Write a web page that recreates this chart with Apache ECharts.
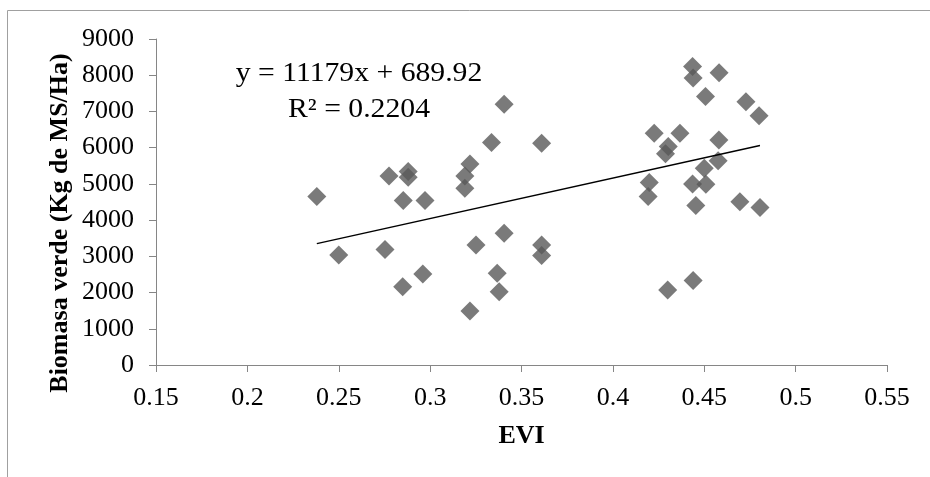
<!DOCTYPE html>
<html>
<head>
<meta charset="utf-8">
<script src="https://cdn.jsdelivr.net/npm/echarts@6/dist/echarts.min.js"></script>
<style>
  html, body { margin: 0; padding: 0; background: #fff; }
  #chart { width: 930px; height: 477px; }
</style>
</head>
<body>
<div id="chart"></div>
<script>
// EVI vs biomasa verde
var evi = [
  0.238, 0.250, 0.2775, 0.288, 0.288, 0.2853, 0.2972, 0.2753, 0.285, 0.296,
  0.3405, 0.3336, 0.361, 0.3218, 0.319, 0.319, 0.3405, 0.3251, 0.361, 0.361, 0.3367, 0.3378, 0.3218,
  0.4436, 0.4439, 0.4581, 0.4507, 0.4728, 0.480, 0.4226, 0.4367, 0.4303, 0.4288, 0.458, 0.4576,
  0.450, 0.4436, 0.4509, 0.4199, 0.4193, 0.4454, 0.4695, 0.4805, 0.4439, 0.430
];
var biomasa = [
  4650, 3040, 5220, 5340, 5180, 4540, 4540, 3190, 2160, 2510,
  7200, 6140, 6120, 5550, 5220, 4880, 3640, 3310, 3310, 3020, 2530, 2020, 1490,
  8240, 7920, 8070, 7410, 7270, 6880, 6400, 6400, 6030, 5830, 6210, 5640,
  5430, 5000, 4990, 5040, 4650, 4400, 4510, 4350, 2330, 2070
];
var xTicks = { min: 0.15, max: 0.55, step: 0.05 };
var yTicks = { min: 0, max: 9000, step: 1000 };

// linear trend as printed on the chart
var slope = 11179;
var intercept = 689.92;
var eqText = 'y = 11179x + 689.92';
var r2Text = 'R² = 0.2204';

var points = evi.map(function (x, i) { return [x, biomasa[i]]; });
var xMin = Math.min.apply(null, evi);
var xMax = Math.max.apply(null, evi);
var trend = [[xMin, slope * xMin + intercept], [xMax, slope * xMax + intercept]];

var serif = '"Liberation Serif", "Times New Roman", serif';
var chart = echarts.init(document.getElementById('chart'));

var option = {
  animation: false,
  grid: { left: 156, right: 43, top: 39, bottom: 112 },
  xAxis: {
    type: 'value',
    min: xTicks.min, max: xTicks.max, interval: xTicks.step,
    name: 'EVI', nameLocation: 'middle', nameGap: 58,
    nameTextStyle: { fontFamily: serif, fontSize: 26, fontWeight: 'bold', color: '#000' },
    axisLine: { lineStyle: { color: '#868686', width: 1 } },
    axisTick: { show: true, length: 7, lineStyle: { color: '#868686' } },
    axisLabel: {
      fontFamily: serif, fontSize: 26, color: '#000', margin: 20,
      formatter: function (v) { return String(+v.toFixed(2)); }
    },
    splitLine: { show: false }
  },
  yAxis: {
    type: 'value',
    min: yTicks.min, max: yTicks.max, interval: yTicks.step,
    axisLine: { show: true, lineStyle: { color: '#868686', width: 1 } },
    axisTick: { show: true, length: 7, lineStyle: { color: '#868686' } },
    axisLabel: {
      fontFamily: serif, fontSize: 26, color: '#000', margin: 22,
      formatter: function (v) { return String(v); }
    },
    splitLine: { show: false }
  },
  graphic: [
    {
      type: 'rect', silent: true,
      shape: { x: 7.5, y: 10.5, width: 1000, height: 1000 },
      style: { fill: 'none', stroke: '#a0a0a0', lineWidth: 1 }
    },
    {
      type: 'text', x: 60, y: 223, rotation: Math.PI / 2,
      style: {
        text: 'Biomasa verde (Kg de MS/Ha)', font: 'bold 26px ' + serif,
        fill: '#000', align: 'center', verticalAlign: 'middle'
      }
    },
    {
      type: 'text', x: 359, y: 74, scaleX: 1.1,
      style: { text: eqText, font: '27px ' + serif, fill: '#000', align: 'center', verticalAlign: 'middle' }
    },
    {
      type: 'text', x: 359, y: 110, scaleX: 1.1,
      style: { text: r2Text, font: '27px ' + serif, fill: '#000', align: 'center', verticalAlign: 'middle' }
    }
  ],
  series: [
    {
      type: 'scatter',
      data: points,
      symbol: 'diamond',
      symbolSize: 19,
      itemStyle: { color: '#595959' }
    },
    {
      type: 'line',
      data: trend,
      symbol: 'none',
      lineStyle: { color: '#000', width: 1.5 },
      z: 3
    }
  ]
};
chart.setOption(option);
</script>
</body>
</html>
